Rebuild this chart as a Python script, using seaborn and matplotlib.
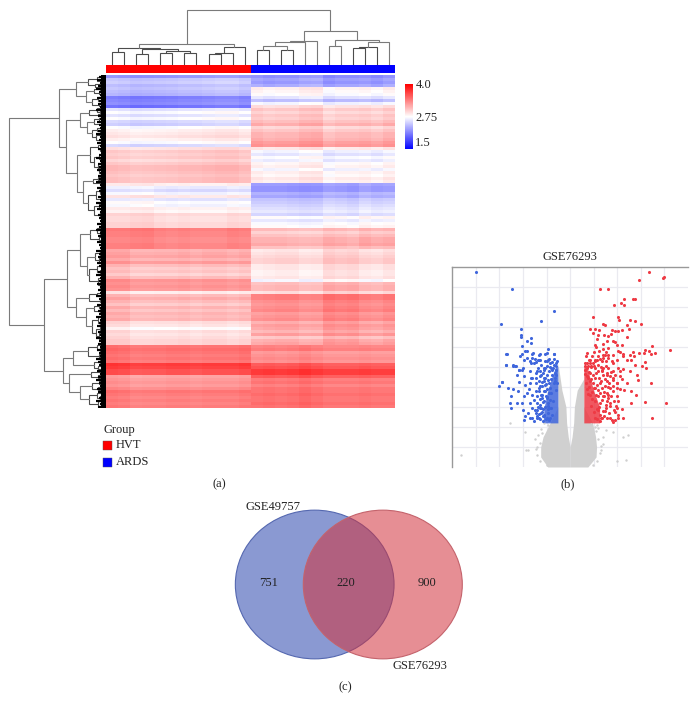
import numpy as np
import pandas as pd
import matplotlib
matplotlib.use("Agg")
import matplotlib.pyplot as plt
import seaborn as sns
from matplotlib.colors import LinearSegmentedColormap, ListedColormap
from matplotlib.patches import Ellipse, Rectangle

W, H = 697, 714

# heatmap, one mean value per row for each group (top to bottom)
hvt_rows = [2.25, 2.48, 2.52, 2.43, 2.48, 2.43, 2.39, 2.12, 2.17, 2.21, 2.07, 2.62, 2.75, 2.62, 2.75, 2.57, 2.52, 2.75, 2.83, 2.87,
            2.91, 2.83, 2.75, 2.57, 2.91, 3.03, 2.99, 3.03, 2.95, 3.03, 3.11, 3.11, 3.07, 3.03, 3.07, 3.07, 2.83, 2.66, 2.57, 2.7,
            2.87, 2.62, 2.75, 2.7, 2.83, 2.79, 2.95, 2.91, 2.91, 2.95, 2.95, 3.39, 3.35, 3.35, 3.31, 3.31, 3.35, 3.35, 3.15, 3.19,
            3.23, 3.15, 3.27, 3.11, 3.03, 3.07, 2.99, 3.11, 3.31, 3.27, 3.31, 3.27, 2.87, 3.11, 3.19, 3.11, 3.03, 3.15, 3.07, 3.15,
            3.11, 3.15, 2.95, 2.91, 2.79, 2.95, 2.91, 2.95, 2.99, 2.99, 3.43, 3.47, 3.43, 3.39, 3.43, 3.39, 3.71, 3.67, 3.59, 3.59,
            3.19, 3.23, 3.27, 3.23, 3.31, 3.43, 3.39, 3.35, 3.39, 3.35, 3.39]
ards_rows = [2.21, 2.3, 2.25, 2.34, 2.83, 2.79, 2.75, 2.62, 2.43, 2.7, 2.91, 3.03, 2.95, 3.03, 2.99, 3.07, 3.15, 2.95, 3.03, 3.11,
             3.11, 3.15, 3.23, 3.27, 2.87, 2.7, 2.62, 2.75, 2.66, 2.79, 2.83, 2.7, 2.83, 2.79, 2.87, 2.83, 2.3, 2.25, 2.25, 2.39,
             2.34, 2.48, 2.52, 2.57, 2.62, 2.66, 2.57, 2.79, 2.66, 2.75, 2.79, 3.11, 2.99, 3.07, 3.15, 3.15, 3.19, 3.07, 2.91, 2.95,
             2.99, 3.03, 3.03, 2.91, 2.91, 2.87, 2.87, 2.91, 2.75, 3.11, 3.15, 3.15, 2.95, 3.43, 3.43, 3.35, 3.31, 3.35, 3.39, 3.27,
             3.31, 3.35, 3.19, 3.27, 3.23, 3.15, 3.27, 3.07, 3.19, 3.23, 3.35, 3.39, 3.23, 3.27, 3.31, 3.27, 3.55, 3.59, 3.71, 3.71,
             3.55, 3.39, 3.43, 3.35, 3.43, 3.43, 3.47, 3.43, 3.43, 3.47, 3.43]

# column differences seen in the four big row blocks
block_ends = [36, 58, 90, 111]
block_shift = [
    [0.0, -0.02, -0.05, -0.04, -0.03, -0.02, 0.0, 0.0, 0.02, 0.04, 0.04, 0.0,
     0.02, -0.02, 0.0, 0.0, 0.05, 0.06, -0.06, -0.02, -0.02, 0.0, -0.04, 0.02],
    [0.02, 0.02, 0.04, 0.05, 0.0, -0.02, 0.0, -0.02, -0.02, -0.02, 0.02, 0.0,
     -0.02, -0.02, -0.02, -0.04, -0.06, -0.05, 0.02, 0.0, -0.03, 0.04, 0.0, 0.02],
    [0.02, 0.02, -0.05, -0.05, -0.04, -0.04, -0.02, -0.05, -0.02, -0.02, -0.05, -0.02,
     -0.07, -0.05, -0.03, -0.03, -0.08, -0.07, 0.05, 0.02, 0.04, -0.03, -0.05, 0.0],
    [0.04, 0.02, -0.03, -0.02, -0.02, 0.0, 0.0, -0.02, 0.0, 0.0, 0.0, 0.03,
     0.0, 0.02, 0.0, 0.02, 0.06, 0.02, -0.02, -0.02, -0.02, 0.0, -0.02, -0.02],
]
group_codes = [0] * 12 + [1] * 12

# length of the black tufts at the end of the row tree
row_tips = [7, 9, 6, 8, 10, 7, 6, 9, 7, 8, 6, 10, 5, 8, 6, 9, 7, 6, 8, 10, 6, 7, 9, 6, 8, 5, 7, 10, 6, 8, 7, 9,
            6, 8, 7, 10, 6, 9, 7, 5, 8, 6, 10, 7, 9, 6, 8, 7, 6, 9, 7, 10, 6, 8, 5, 9, 7, 6, 10, 7, 8, 6, 9, 7,
            5, 8, 10, 6, 7, 9, 6, 8, 6, 10, 7, 5, 9, 6, 8, 7, 10, 6, 7, 9, 5, 8, 6, 10, 7, 8, 6, 9, 7, 6, 10, 8,
            7, 5, 9, 6, 8, 10, 7, 6, 9, 8, 5, 7, 10, 6, 8]

# trees: (height, child, child), a bare number is a leaf position
col_tree = (55,
            (20.7,
             (16.7, (12.3, 0.5, 1.5), (15.7, (11, 2.5, 3.5), (14, (12, 4.5, 5.5), (12, 6.5, 7.5)))),
             (17.3, (11.3, (10.7, 8.5, 9.5), 10.5), 11.5)),
            (34,
             (24, (22.3, (19, (14.7, 12.5, 13.5), (14.7, 14.5, 15.5)), 16.5), 17.5),
             (25, (19, 18.5, 19.5), (22.3, (17.3, (16.7, 20.5, 21.5), 22.5), 23.5))))

row_tree = (97,
            (46.7,
             (30.3,
              (17.7, (9, (5, 0.3, 1.0), (4, 1.5, 2.2)), (11, (6, 2.6, 3.2), 4.0)),
              (20, (12, (6, 4.3, 5), (7, 5.5, 6.2)), (14, (8, (4, 7, 7.8), (5, 8.2, 9)), (7, 9.5, 10.4)))),
             (40.3,
              (26,
               (17, (9, (5, 10.7, 11.4), (6, 11.8, 12.6)), (8, 13, 13.8)),
               (19, (12, (7, 14.2, 15.2), (5, 15.8, 16.8)),
                (14, (9, (5, 17.2, 18), (6, 18.4, 19.2)), (10, (6, 19.6, 20.5), (5, 21, 22))))),
              (28.7,
               (16, (8, (5, 23, 23.8), (6, 24.3, 25.2)),
                (12, (7, (4, 26, 27), (5, 27.6, 28.5)), (8, (5, 29, 30), (7, (4, 30.6, 31.4), (5, 32, 33))))),
               (23.3, (13, (8, 34, 35), (6, 35.5, 36.5)),
                (18, (10, (6, 38, 39.5), (5, 40.5, 42)), (12, (7, 43, 44.5), (6, 45.5, 47.5))))))),
            (61.7,
             (39.3,
              (26,
               (16, (9, (5, 50.5, 51.5), (6, 52, 53)), (7, 54, 55)),
               (19.3, (11, (6, (4, 58, 59), (5, 59.5, 60.5)), (7, 61, 62.5)),
                (17, (9, (5, 63, 64), (6, 65, 66)), (8, (5, 67, 68), (6, 69, 71))))),
              (30,
               (17, (9, (5, 72, 73), (4, 73.5, 74)), (6, 75, 75.8)),
               (20, (12, (7, 76.5, 77.5), (6, 78, 79)),
                (14, (8, (5, 80, 81), (6, 82, 83)), (10, (6, 84, 85.5), (7, 86, 88)))))),
             (42.7,
              (32.7,
               (18, (9, (5, 89.5, 90.5), (6, 91, 92)), (7, 93, 94)),
               (12, (6, 95, 96), (8, 97, 98))),
              (36.7,
               (15, (6, 98.5, 99.5), (8, 100, 101)),
               (26, (14, (7, 102, 103), (8, 104, 105)),
                (17, (9, (5, 105.5, 106.5), (6, 107, 108)), (8, 108.5, 110.5)))))))

# volcano plot
blue_fc = [-4.0, -2.45, -0.67, -1.24, -2.95, -2.07, -2.09, -2.1, -1.67, -1.82, -1.68, -2.06, -0.93, -2.74, -2.71, -2.43, -2.29,
           -2.03, -1.85, -1.57, -1.29, -0.98, -0.67, -1.96, -1.61, -1.33, -0.98, -0.62, -1.68, -0.83, -1.09, -1.4, -2.03, -2.17,
           -2.24, -1.96, -1.68, -2.88, -2.17,
           -3.01, -2.88, -2.74, -2.7, -2.64, -2.42, -2.21, -2.5, -2.25, -2.56, -2.53, -2.04, -1.94, -1.69, -2.0, -1.92, -1.71,
           -1.94, -1.54, -1.33, -1.83, -1.61, -1.47, -1.9, -1.69, -1.61, -2.18, -1.99, -2.42, -2.32, -2.11, -1.9, -1.61, -1.83,
           -1.54, -1.33, -1.05, -0.7, -0.95, -1.26, -0.84, -0.7, -1.71, -1.47, -1.26, -1.05, -0.77, -1.12, -1.33, -1.47, -1.19,
           -0.91, -1.33, -1.05, -1.19, -1.4, -1.26, -1.47, -1.4, -1.12, -0.91, -0.77, -0.84, -0.91, -0.63, -0.59,
           -1.15, -1.0, -1.25, -1.35, -1.1, -0.95, -1.2, -1.05, -1.3, -1.4, -0.9, -1.15, -1.0, -1.25, -1.1,
           -1.55, -1.5, -1.46, -1.42, -1.4, -1.36, -1.34, -1.3, -1.28, -1.26, -1.24, -1.22, -1.2, -1.18, -1.16, -1.14, -1.12,
           -1.1, -1.08, -1.06, -1.04, -1.03, -1.02, -1.0, -0.98, -0.97, -0.96, -0.94, -0.92, -0.9, -0.88, -0.87, -0.86, -0.84,
           -0.82, -0.81, -0.8, -0.78, -0.76, -0.74, -0.72, -0.7, -0.68, -0.66, -0.64, -0.62, -0.6, -0.58, -0.56, -0.55, -1.35,
           -1.5, -1.75, -1.8, -1.62, -1.72, -1.6, -1.45, -1.27, -1.13, -1.07, -0.99, -0.93, -1.17, -1.23, -1.31]
blue_logp = [9.72, 8.9, 7.8, 7.3, 7.13, 6.9, 6.57, 6.47, 6.43, 6.27, 6.18, 6.02, 5.9, 5.65, 5.1, 5.07, 5.05,
             5.63, 5.77, 5.68, 5.63, 5.68, 5.63, 5.35, 5.43, 5.35, 5.27, 5.18, 5.18, 4.93, 4.85, 4.77, 4.85, 4.85,
             4.6, 4.52, 4.43, 4.23, 4.23,
             4.02, 4.23, 5.1, 5.65, 3.93, 3.88, 3.77, 3.52, 3.18, 3.18, 2.93, 3.18, 3.52, 3.18, 2.82, 2.52, 2.43,
             2.32, 2.27, 2.43, 3.68, 3.6, 3.77, 4.1, 4.18, 4.43, 4.85, 4.93, 5.05, 5.05, 5.52, 5.77, 5.65, 5.43,
             5.18, 5.6, 5.65, 5.65, 5.35, 5.35, 5.18, 5.1, 4.77, 4.68, 4.77, 4.93, 4.85, 4.43, 4.27, 4.18, 4.02,
             4.18, 3.77, 3.77, 3.43, 3.18, 2.93, 2.68, 2.43, 2.6, 2.93, 2.6, 3.35, 3.68, 4.43, 3.85,
             2.3, 2.45, 2.7, 3.0, 3.3, 3.05, 3.6, 4.1, 3.4, 2.85, 2.35, 2.9, 3.5, 4.6, 4.3,
             3.35, 2.85, 4.45, 3.55, 2.55, 4.95, 3.95, 3.1, 4.55, 2.4, 3.6, 5.1, 2.75, 4.25, 3.25, 4.7, 3.8,
             2.55, 5.3, 3.0, 4.15, 3.55, 2.4, 4.6, 5.05, 3.9, 2.7, 4.35, 3.2, 5.4, 4.8, 2.45, 3.95, 5.0,
             4.4, 2.95, 3.7, 5.25, 4.6, 3.3, 4.95, 4.2, 5.4, 4.7, 4.3, 5.05, 4.85, 4.6, 5.3, 4.2, 5.35,
             5.4, 3.9, 2.7, 2.95, 5.3, 2.45, 5.25, 4.05, 4.95, 4.45, 3.45, 2.9, 2.55, 2.95, 2.65]

red_fc = [3.34, 2.92, 3.97, 3.94, 1.27, 1.61, 2.28, 2.68, 2.76, 1.85, 2.15, 2.28, 0.99, 2.01, 2.07, 2.54, 2.77, 3.01, 1.41, 1.48,
          2.42, 2.49, 0.85, 1.07, 1.24, 1.76, 1.9, 2.01, 2.18, 0.96, 1.2, 1.45, 1.62, 1.72, 2.42, 1.13, 1.58, 1.83, 1.92, 1.38,
          1.06, 1.99, 2.18, 3.46, 1.1, 1.41, 1.59, 3.18, 3.34, 2.68, 2.92, 3.13, 3.42, 3.59, 4.25, 2.01, 2.11, 2.25, 2.54, 2.25,
          2.7, 1.24, 1.01, 0.7, 1.52, 1.48, 0.68, 0.92, 1.2, 1.41, 1.8, 1.59, 2.6, 2.42, 1.97, 1.76, 3.17, 3.03, 2.75, 3.21,
          2.25, 2.11, 2.54, 2.82, 2.89, 3.45, 1.97, 1.83, 1.55, 1.34, 1.2, 1.06, 0.85, 0.7, 0.87, 0.63,
          2.6, 2.79, 2.6, 3.17, 4.06, 3.46, 2.25, 1.97, 2.18, 1.9, 1.58, 1.9, 1.8,
          1.41, 1.62, 0.85, 1.13, 1.83, 1.06, 0.85, 1.34, 1.62, 1.83, 2.04, 1.06, 0.85, 1.27, 1.55, 1.83, 2.11, 1.06, 1.34, 1.55,
          1.83, 1.97, 1.69, 1.48, 1.27, 1.34, 1.06, 1.69, 2.04, 1.62, 1.41, 1.27, 1.55, 1.2, 1.48, 1.69, 1.97, 1.2, 1.41, 1.69,
          0.99, 1.34, 0.77, 0.63, 0.7, 0.96, 1.2,
          0.62, 0.65, 0.68, 0.7, 0.72, 0.75, 0.78, 0.8, 0.82, 0.84, 0.87, 0.9, 0.92, 0.94, 0.97, 1.0, 1.02, 1.04, 1.08, 1.1,
          1.12, 1.14, 1.16, 1.18, 1.22, 1.24, 1.26, 1.28, 1.3, 1.32, 1.36, 1.38, 1.4, 1.42, 1.44, 1.46, 1.5, 1.52, 1.54, 1.56,
          1.6, 1.63, 1.65, 1.68, 1.72, 1.75, 1.78, 1.8, 1.85, 1.88, 1.92, 1.95, 2.0, 2.05, 2.1, 2.2, 2.3, 2.4, 2.05, 1.3,
          1.5, 1.05, 0.75, 0.9, 1.25, 1.0, 1.45, 1.6]
red_logp = [9.72, 9.35, 9.48, 9.43, 8.9, 8.9, 8.38, 8.38, 8.38, 8.1, 8.17, 8.1, 7.47, 7.47, 7.35, 7.35, 7.3, 7.13, 7.13, 7.1,
            7.1, 6.9, 6.9, 6.9, 6.82, 6.85, 6.8, 6.8, 6.83, 6.68, 6.6, 6.58, 6.52, 6.63, 6.47, 6.4, 6.3, 6.27, 6.23, 6.13,
            6.07, 6.1, 6.1, 6.05, 5.97, 5.9, 5.93, 5.85, 5.8, 5.73, 5.68, 5.68, 5.63, 5.68, 5.82, 5.8, 5.73, 5.63, 5.57, 5.52,
            5.52, 5.8, 5.73, 5.68, 5.73, 5.6, 5.52, 5.52, 5.52, 5.57, 5.6, 5.43, 5.35, 5.35, 5.35, 5.27, 5.22, 5.02, 5.1, 4.93,
            4.9, 4.77, 4.77, 4.6, 4.35, 4.18, 4.18, 4.35, 4.6, 4.77, 5.1, 5.27, 5.35, 5.18, 5.02, 5.02,
            3.77, 3.6, 3.18, 3.22, 3.18, 2.43, 2.43, 2.93, 2.88, 2.72, 2.43, 2.32, 2.25,
            5.43, 5.6, 5.18, 5.35, 5.18, 4.93, 4.68, 4.85, 4.93, 4.77, 4.93, 4.43, 4.27, 4.18, 4.27, 4.43, 4.52, 3.93, 3.93, 3.68,
            3.77, 3.52, 3.02, 2.77, 2.6, 2.43, 2.43, 2.43, 2.6, 3.43, 3.52, 3.18, 3.27, 2.85, 4.02, 3.93, 3.93, 4.77, 4.6, 4.52,
            5.18, 5.27, 5.02, 4.85, 4.52, 4.18, 3.52,
            5.2, 4.65, 4.2, 4.95, 3.9, 4.45, 5.35, 4.0, 4.75, 3.6, 4.4, 5.0, 3.75, 3.4, 4.6, 3.95, 5.05, 3.3, 4.7, 3.6,
            2.4, 4.1, 2.9, 3.85, 4.45, 3.0, 5.4, 3.7, 2.45, 4.3, 3.35, 2.8, 4.95, 3.75, 2.55, 4.4, 3.1, 5.05, 2.95, 4.7,
            3.6, 2.7, 4.2, 3.2, 4.75, 3.55, 2.35, 4.05, 3.3, 2.85, 4.6, 3.05, 4.2, 3.3, 3.9, 4.4, 3.85, 4.2, 2.45, 5.0,
            5.3, 5.35, 3.65, 3.05, 2.3, 2.75, 3.55, 4.0]

# sparse grey genes
grey_fc = [-4.65, -2.55, -1.9, -1.87, -1.77, 1.97, 2.35, 2.45, 2.25, 1.82, 1.54, 1.4, 1.4, 1.3, 1.2, -1.5, -1.3, -1.4,
           -1.4, -1.35, -1.25, -1.1, -0.95, -1.3, -1.0, 1.15, 1.1, 1.2, 1.25, 1.15, 0.95, 1.05, 0.9, -1.45, -1.2, 1.3]
grey_logp = [0.62, 2.17, 1.75, 0.83, 0.83, 0.3, 0.33, 1.62, 1.5, 1.75, 1.83, 1.5, 1.17, 0.85, 1.95, 1.4, 1.2, 1.0,
             0.6, 1.6, 1.9, 2.2, 2.1, 0.3, 0.1, 2.1, 1.8, 1.4, 0.7, 0.3, 0.1, 2.0, 2.15, 0.9, 1.7, 1.05]

# outline of the dense grey V, and the dense parts of the two colour clouds
v_logp = [0.0, 0.5, 1.0, 1.5, 2.2, 3.0, 3.83, 4.4, 5.2]
v_left_out = [-0.95, -1.25, -1.25, -1.15, -0.85, -0.52, -0.52, -0.52, -0.52]
v_left_in = [0.0, 0.0, 0.0, -0.08, -0.15, -0.18, -0.35, -0.42, -0.52]
v_right_in = [0.0, 0.0, 0.0, 0.08, 0.15, 0.18, 0.3, 0.58, 0.58]
v_right_out = [0.75, 1.1, 1.12, 1.08, 0.95, 0.58, 0.58, 0.58, 0.58]

band_logp = [2.2, 3.0, 3.8, 4.4, 5.0]
blue_band = [-1.15, -1.1, -0.95, -0.8, -0.62]
red_band = [1.25, 1.25, 1.0, 0.85, 0.72]

venn_labels = ["GSE49757", "GSE76293"]
venn_counts = [751, 220, 900]


def px_axes(left, top, right, bottom):
    return fig.add_axes([left / W, 1 - bottom / H, (right - left) / W, (bottom - top) / H])


def draw_tree(ax, node, flip=False):
    if not isinstance(node, tuple):
        return node, 0
    h, a, b = node
    pa, ha = draw_tree(ax, a, flip)
    pb, hb = draw_tree(ax, b, flip)
    xs = [pa, pa, pb, pb]
    ys = [ha, h, h, hb]
    color = "#7a7a7a" if h > 18 else "#4c4c4c"
    if flip:
        ax.plot(ys, xs, color=color, lw=0.8, solid_joinstyle="miter")
    else:
        ax.plot(xs, ys, color=color, lw=0.8, solid_joinstyle="miter")
    return (pa + pb) / 2, h


sns.set_theme(style="white")
plt.rcParams["font.family"] = ["Liberation Serif", "DejaVu Serif"]
plt.rcParams["font.size"] = 9

fig = plt.figure(figsize=(W / 100, H / 100), dpi=100)

# page axes for the free text and venn
page = px_axes(0, 0, W, H)
page.set_xlim(0, W)
page.set_ylim(H, 0)
page.axis("off")

# build matrix from row means and block column shifts
rows = []
start = 0
for end, shift in zip(block_ends, block_shift):
    for i in range(start, end):
        rows.append([hvt_rows[i] + s for s in shift[:12]] + [ards_rows[i] + s for s in shift[12:]])
    start = end
matrix = pd.DataFrame(rows)

bwr = LinearSegmentedColormap.from_list("bwr2", ["#0000ff", "#ffffff", "#ff0000"])
ax_hm = px_axes(106, 75, 395.5, 408)
ax_cb = px_axes(405, 84, 412.5, 149.5)
sns.heatmap(matrix, ax=ax_hm, cmap=bwr, vmin=1.5, vmax=4.0, cbar_ax=ax_cb,
            xticklabels=False, yticklabels=False, linewidths=0)
ax_cb.set_yticks([1.5, 2.75, 4.0])
ax_cb.set_yticklabels(["1.5", "2.75", "4.0"], fontsize=9)
ax_cb.get_yticklabels()[0].set_va("bottom")
ax_cb.tick_params(length=0, pad=2)

# group bar
ax_grp = px_axes(106, 64.5, 395.5, 73)
sns.heatmap([group_codes], ax=ax_grp, cmap=ListedColormap(["#ff0000", "#0000ff"]), cbar=False,
            xticklabels=False, yticklabels=False)

# dendrograms
ax_top = px_axes(106, 5, 395.5, 64.5)
ax_top.set_xlim(0, 24)
ax_top.set_ylim(0, 59.5)
ax_top.axis("off")
draw_tree(ax_top, col_tree)

ax_left = px_axes(5, 75, 106, 408)
ax_left.set_xlim(101, 0)
ax_left.set_ylim(111, 0)
ax_left.axis("off")
draw_tree(ax_left, row_tree, flip=True)
ax_left.hlines(np.arange(len(row_tips)) + 0.5, 0, row_tips, color="black", lw=1.6)
ax_left.hlines(np.arange(len(row_tips)) + 0.5, 0, 5, color="black", lw=3)

# volcano
ax_v = px_axes(452.3, 266.5, 688, 467)
ax_v.set_xlim(-5, 5)
ax_v.set_ylim(0, 10)
ax_v.set_xticks(range(-4, 5))
ax_v.set_yticks(range(1, 10))
ax_v.grid(True, color="#eaeaf0", lw=0.9)
ax_v.set_axisbelow(True)
sns.despine(ax=ax_v, right=True, bottom=True, top=False)
ax_v.tick_params(length=0, labelbottom=False, labelleft=False, labeltop=False, labelright=False)
for s in ["left", "top"]:
    ax_v.spines[s].set_color("#999999")
    ax_v.spines[s].set_linewidth(1.0)
ax_v.fill_betweenx(v_logp, v_left_out, v_left_in, color="#d0d0d0", lw=0)
ax_v.fill_betweenx(v_logp, v_right_in, v_right_out, color="#d0d0d0", lw=0)
ax_v.fill_betweenx(band_logp, blue_band, -0.52, color="#3f66dc", alpha=0.85, lw=0)
ax_v.fill_betweenx(band_logp, 0.58, red_band, color="#ee3a44", alpha=0.85, lw=0)
sns.scatterplot(x=grey_fc, y=grey_logp, ax=ax_v, color="#cfcfcf", s=3, linewidth=0, legend=False)
sns.scatterplot(x=blue_fc, y=blue_logp, ax=ax_v, color="#3f66dc", s=5, linewidth=0, legend=False)
sns.scatterplot(x=red_fc, y=red_logp, ax=ax_v, color="#ee3a44", s=5, linewidth=0, legend=False)
page.text(570, 257.5, venn_labels[1], ha="center", va="center", fontsize=9, color="#222222")

# legend under heatmap
page.text(103, 430, "Group", ha="left", va="center", fontsize=9, color="#222222")
page.add_patch(Rectangle((103, 441), 9, 9, fc="#ff0000", ec="#555555", lw=0.3))
page.add_patch(Rectangle((103, 458), 9, 9, fc="#0000ff", ec="#555555", lw=0.3))
page.text(116, 445, "HVT", ha="left", va="center", fontsize=9, color="#222222")
page.text(116, 462, "ARDS", ha="left", va="center", fontsize=9, color="#222222")

page.text(219, 484, "(a)", ha="center", va="center", fontsize=9, color="#222222")
page.text(568, 484, "(b)", ha="center", va="center", fontsize=9, color="#222222")
page.text(345, 687, "(c)", ha="center", va="center", fontsize=9, color="#222222")

# venn
page.add_patch(Ellipse((314.7, 584.5), 158.7, 148.7, fc=(60 / 255, 85 / 255, 180 / 255, 0.6), ec="#5568b0", lw=0.8))
page.add_patch(Ellipse((382.8, 584.5), 159, 148.7, fc=(210 / 255, 50 / 255, 60 / 255, 0.55), ec="#c4636c", lw=0.8))
page.text(272.5, 507, venn_labels[0], ha="center", va="center", fontsize=9, color="#222222")
page.text(419.5, 666, venn_labels[1], ha="center", va="center", fontsize=9, color="#222222")
for xp, c in zip([269, 346, 427], venn_counts):
    page.text(xp, 583, str(c), ha="center", va="center", fontsize=9, color="#222222")

fig.savefig("out.png", dpi=100)
